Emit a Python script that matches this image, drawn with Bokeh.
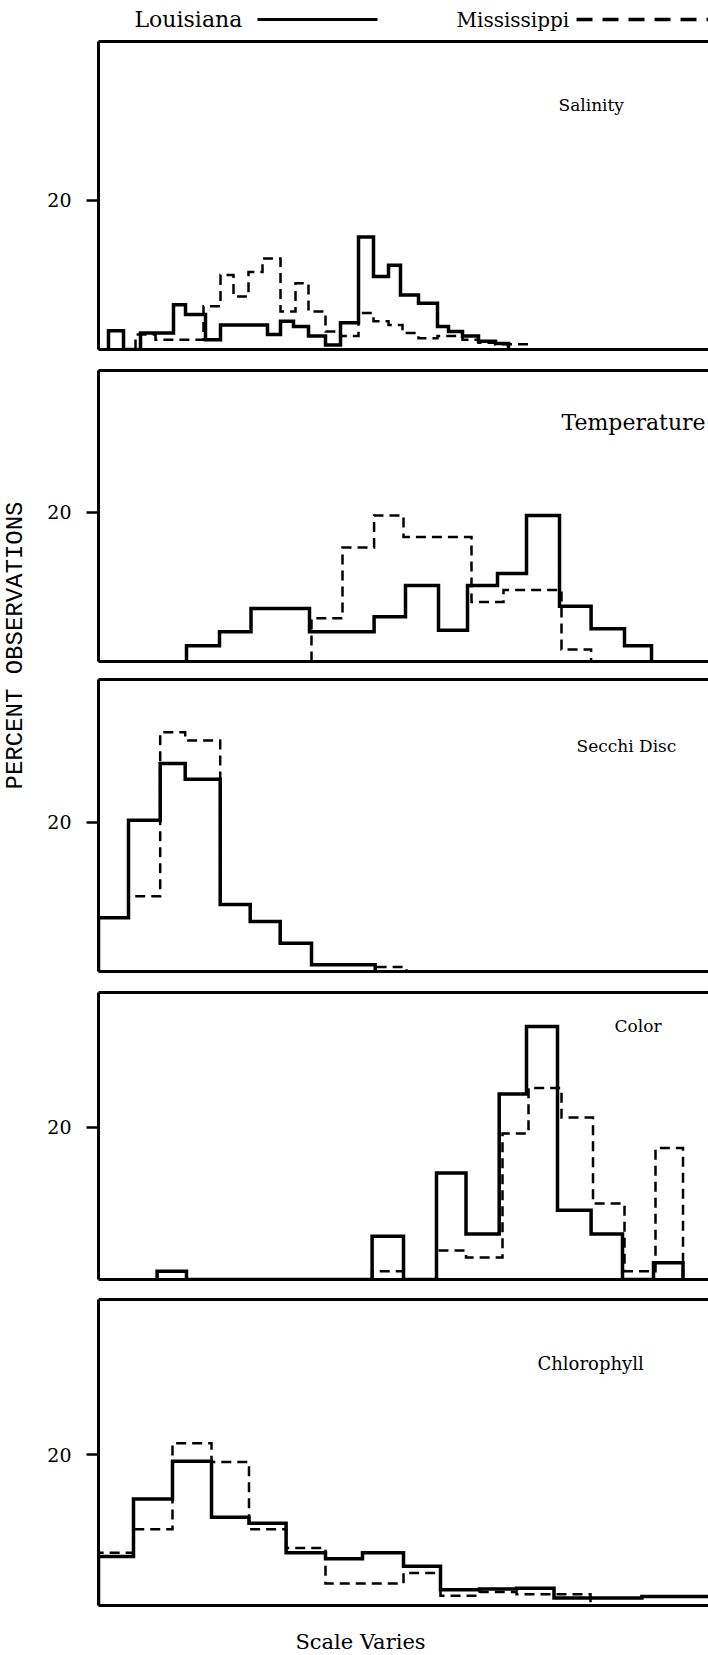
from bokeh.plotting import figure
from bokeh.layouts import column, row
from bokeh.models import Range1d, LinearAxis, FixedTicker, Label
from bokeh.embed import file_html
from bokeh.resources import INLINE
from bokeh.core.properties import value
import math

# ---------------- data (x: arbitrary "scale varies" units, y: percent observations) -------------
sal_la_edges = [10, 25, 42, 75, 87, 107, 122, 169, 182, 195, 210, 227, 242, 260, 275, 290, 302, 320, 339, 350, 364, 380, 397, 410]
sal_la_pct = [2.5, 0, 2.2, 6.0, 4.7, 1.3, 3.3, 2.0, 3.8, 3.1, 1.8, 0.6, 3.6, 15.1, 9.8, 11.3, 7.3, 6.2, 3.1, 2.4, 1.8, 1.1, 0.8]
sal_ms_edges = [37, 57, 105, 122, 135, 150, 164, 182, 197, 210, 227, 242, 260, 275, 290, 304, 320, 339, 364, 380, 397, 430]
sal_ms_pct = [2.0, 1.3, 5.8, 10.0, 7.1, 10.4, 12.2, 5.1, 8.9, 5.1, 2.4, 1.8, 4.9, 3.8, 3.3, 2.2, 1.5, 1.8, 1.3, 0.9, 0.7]

tmp_la_edges = [88, 121, 152.5, 211, 275.6, 307, 340, 369, 399, 428, 461, 492.6, 526, 553]
tmp_la_pct = [2.1, 4.0, 7.1, 4.0, 6.0, 10.2, 4.2, 10.2, 11.8, 19.6, 7.4, 4.4, 2.1]
tmp_ms_edges = [213, 244, 275.6, 305, 373, 405, 463, 492.6]
tmp_ms_pct = [5.8, 15.3, 19.6, 16.7, 8.0, 9.6, 1.6]

sec_la_edges = [0, 30, 61.7, 86.7, 121.7, 151.7, 181.7, 213, 276.7]
sec_la_pct = [7.2, 20.3, 27.9, 25.8, 9.0, 6.7, 3.8, 0.9]
sec_ms_edges = [0, 30, 61.7, 86.7, 121.7, 151.7, 181.7, 213, 276.7, 308]
sec_ms_pct = [7.2, 10.1, 32.1, 31.0, 9.0, 6.7, 3.8, 0.9, 0.6]

col_la_edges = [58.6, 88, 273.6, 305, 338, 367.5, 400.7, 428, 459, 492.6, 524, 555, 584.5]
col_la_pct = [1.1, 0, 5.7, 0, 14.0, 6.0, 24.4, 33.3, 9.1, 6.0, 0, 2.2]
col_ms_edges = [273.6, 305, 338, 367.5, 404, 430, 463, 494.5, 526, 557, 584.5]
col_ms_pct = [1.1, 0, 3.8, 2.9, 19.2, 25.2, 21.3, 10.0, 1.1, 17.3]

chl_la_edges = [0, 35, 74, 113, 150.5, 187.6, 227, 264, 305, 342, 381, 418, 455.5, 543.4, 615]
chl_la_pct = [6.5, 14.1, 19.1, 11.7, 10.9, 7.0, 6.2, 7.0, 5.2, 2.1, 2.2, 2.3, 1.0, 1.2]
chl_ms_edges = [0, 35, 74, 113, 150.5, 187.6, 227, 305, 342, 381, 418, 455.5, 492]
chl_ms_pct = [7.0, 10.1, 21.5, 19.0, 10.1, 7.6, 2.9, 4.3, 1.3, 1.8, 1.5, 1.5]

panel_titles = ["Salinity", "Temperature", "Secchi Disc", "Color", "Chlorophyll"]
series_names = ["Louisiana", "Mississippi"]
y_tick = [20]
y_axis_title = "PERCENT OBSERVATIONS"
x_axis_title = "Scale Varies"

# ---------------- layout constants -------------
SERIF = "DejaVu Serif"
MONO = "Liberation Mono"
LW = 30           # width of the y-title strip
PW = 708 - LW     # panel figure width
LB = 68           # left border of panels
XMAX = 610

def steps(edges, pct):
    xs = [edges[0]] + list(edges)
    ys = [0] + list(pct) + [0]
    return xs, ys

def bare_axis():
    return LinearAxis(ticker=FixedTicker(ticks=[]), major_label_text_font_size="0px",
                      major_tick_out=0, major_tick_in=0, minor_tick_out=0, minor_tick_in=0,
                      major_label_standoff=0, axis_label_standoff=0,
                      axis_line_width=3, axis_line_color="black")

def panel(title, ymax, top, frame_h, bottom, la, ms, tx, ty, tsize):
    p = figure(width=PW, height=top + frame_h + bottom, x_range=Range1d(0, XMAX), y_range=Range1d(0, ymax),
               output_backend="svg", toolbar_location=None, x_axis_type=None, y_axis_type=None,
               min_border_left=LB, min_border_right=0, min_border_top=top, min_border_bottom=bottom)
    p.outline_line_color = None
    p.background_fill_color = "white"
    p.border_fill_color = "white"
    yax = LinearAxis(ticker=FixedTicker(ticks=y_tick), axis_line_width=3, axis_line_color="black",
                     major_tick_out=12, major_tick_in=0, major_tick_line_width=2.5,
                     minor_tick_out=0, minor_tick_in=0, major_label_standoff=15,
                     major_label_text_font=SERIF, major_label_text_font_size="19px",
                     major_label_text_color="black")
    p.add_layout(yax, "left")
    p.add_layout(bare_axis(), "below")
    p.add_layout(bare_axis(), "above")
    xs, ys = steps(*ms)
    p.step(xs, ys, mode="after", line_color="black", line_width=2.5, line_dash="10 6", line_join="miter")
    xs, ys = steps(*la)
    p.step(xs, ys, mode="after", line_color="black", line_width=3.5, line_join="miter")
    p.add_layout(Label(x=tx, y=ty, text=title, text_font=SERIF, text_font_size=tsize,
                       text_baseline="middle", text_align="left", text_color="black"))
    return p

p1 = panel(panel_titles[0], 41.34, 3, 308, 3, (sal_la_edges, sal_la_pct), (sal_ms_edges, sal_ms_pct), 460, 32.8, "17px")
p2 = panel(panel_titles[1], 39.06, 18, 291, 4, (tmp_la_edges, tmp_la_pct), (tmp_ms_edges, tmp_ms_pct), 463, 32.1, "22px")
p3 = panel(panel_titles[2], 39.19, 14, 292, 4, (sec_la_edges, sec_la_pct), (sec_ms_edges, sec_ms_pct), 478, 30.2, "17px")
p4 = panel(panel_titles[3], 37.76, 17, 287, 4, (col_la_edges, col_la_pct), (col_ms_edges, col_ms_pct), 516, 33.4, "17px")
p5 = panel(panel_titles[4], 40.53, 16, 306, 5, (chl_la_edges, chl_la_pct), (chl_ms_edges, chl_ms_pct), 439, 32.1, "18px")

# header (legend)
HH = 38
hdr = figure(width=PW, height=HH, x_range=Range1d(0, XMAX), y_range=Range1d(0, HH),
             output_backend="svg", toolbar_location=None, x_axis_type=None, y_axis_type=None,
             min_border_left=LB, min_border_right=0, min_border_top=0, min_border_bottom=0)
hdr.outline_line_color = None
hdr.text(x=[36], y=[19], text=[series_names[0]], text_font=value(SERIF), text_font_size="22px",
         text_baseline="middle", text_align="left", text_color="black")
hdr.segment(x0=[159], y0=[19], x1=[279], y1=[19], line_color="black", line_width=3)
hdr.text(x=[358], y=[19], text=[series_names[1]], text_font=value(SERIF), text_font_size="20px",
         text_baseline="middle", text_align="left", text_color="black")
hdr.segment(x0=[478], y0=[19], x1=[612], y1=[19], line_color="black", line_width=3.5, line_dash="16 10")

# footer
FH = 45
ftr = figure(width=PW, height=FH, x_range=Range1d(0, XMAX), y_range=Range1d(0, FH),
             output_backend="svg", toolbar_location=None, x_axis_type=None, y_axis_type=None,
             min_border_left=LB, min_border_right=0, min_border_top=0, min_border_bottom=0)
ftr.outline_line_color = None
ftr.text(x=[262], y=[14], text=[x_axis_title], text_font=value(SERIF), text_font_size="21px",
         text_baseline="middle", text_align="center", text_color="black")

TOTAL_H = HH + p1.height + p2.height + p3.height + p4.height + p5.height + FH

lab = figure(width=LW, height=TOTAL_H, x_range=Range1d(0, LW), y_range=Range1d(0, TOTAL_H),
             output_backend="svg", toolbar_location=None, x_axis_type=None, y_axis_type=None,
             min_border_left=0, min_border_right=0, min_border_top=0, min_border_bottom=0)
lab.outline_line_color = None
lab.text(x=[15], y=[TOTAL_H - 645], text=[y_axis_title], angle=math.pi / 2, text_font=value(MONO),
         text_font_size="24px", text_baseline="middle", text_align="center", text_color="black")

layout = row(lab, column(hdr, p1, p2, p3, p4, p5, ftr))
open("out.html", "w").write(file_html(layout, INLINE))
